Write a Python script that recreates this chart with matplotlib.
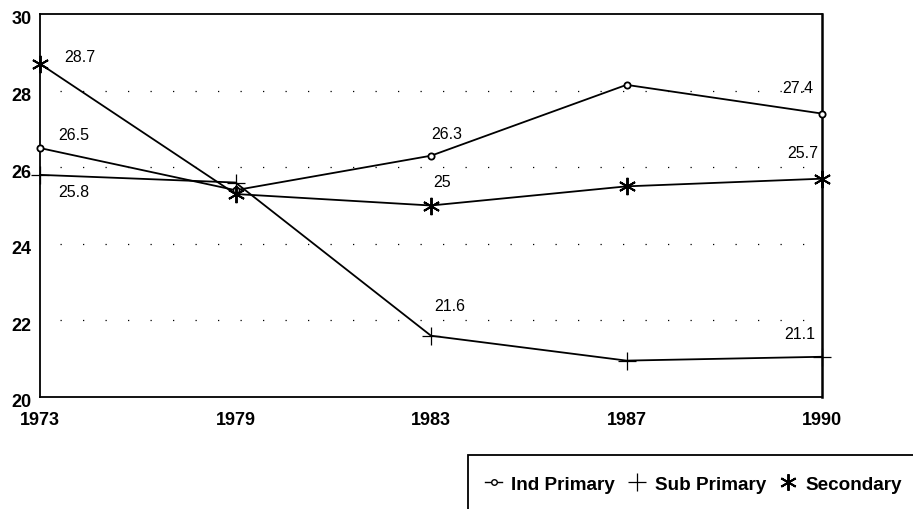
import matplotlib
matplotlib.use("Agg")
import matplotlib.pyplot as plt
import matplotlib.transforms as mtransforms
from matplotlib.lines import Line2D
from matplotlib.patches import Rectangle

years = ["1973", "1979", "1983", "1987", "1990"]
ind_primary = [26.5, 25.4, 26.3, 28.15, 27.4]
sub_primary = [25.8, 25.6, 21.6, 20.95, 21.05]
secondary = [28.7, 25.3, 25.0, 25.5, 25.7]
y_ticks = [20, 22, 24, 26, 28, 30]
series_names = ["Ind Primary", "Sub Primary", "Secondary"]

# labels shown on chart: (series, index, text, dx, dy) offsets in points
labels = [
    (secondary, 0, "28.7", 29, 5),
    (ind_primary, 0, "26.5", 24.5, 9.4),
    (sub_primary, 0, "25.8", 24.5, -12.2),
    (ind_primary, 2, "26.3", 11.5, 15.8),
    (secondary, 2, "25", 8, 17.3),
    (sub_primary, 2, "21.6", 13.7, 21.6),
    (ind_primary, 4, "27.4", -17.3, 18.7),
    (secondary, 4, "25.7", -13.7, 18.7),
    (sub_primary, 4, "21.1", -15.8, 16.6),
]

plt.rcParams['font.family'] = ['Liberation Sans', 'DejaVu Sans']
fig = plt.figure(figsize=(9.13, 5.10), dpi=100)
ax = fig.add_axes([40/913, 1-398/510, (822-40)/913, (398-15)/510])

x = list(range(len(years)))
ax.plot(x, ind_primary, color='black', lw=1.3, marker='o', ms=4.5,
        mfc='white', mec='black', mew=1.3, clip_on=False, zorder=3)
ax.plot(x, sub_primary, color='black', lw=1.3, marker='+', ms=13,
        mew=0.9, clip_on=False, zorder=3)
ax.plot(x, secondary, color='black', lw=1.3, marker=(6, 2, 0), ms=12.5,
        mew=1.4, clip_on=False, zorder=3)

for series, i, txt, dx, dy in labels:
    ax.annotate(txt, (x[i], series[i]), xytext=(dx, dy), textcoords='offset points',
                ha='center', va='center', fontsize=11.5)

for yv in [22, 24, 26, 28]:
    ax.plot([0.1, 3.95], [yv, yv], color='black', lw=0.9, ls=(0, (1, 17)), zorder=1)

ax.set_xlim(0, 4)
ax.set_ylim(20, 30)
ax.set_xticks(x)
ax.set_xticklabels(years)
ax.set_yticks(y_ticks)
for lbl in ax.get_xticklabels() + ax.get_yticklabels():
    lbl.set_fontweight('bold')
    lbl.set_fontsize(13)
ax.tick_params(axis='x', length=0, pad=10)
ax.tick_params(axis='y', length=0, pad=6)
offset = mtransforms.ScaledTranslation(0, -3/100, fig.dpi_scale_trans)
for lbl in ax.get_yticklabels():
    lbl.set_transform(lbl.get_transform() + offset)
for s in ax.spines.values():
    s.set_linewidth(1.3)
ax.spines['right'].set_linewidth(1.8)

handles = [
    Line2D([], [], color='black', lw=1, marker='o', ms=4, mfc='white'),
    Line2D([], [], color='black', lw=0, marker='+', ms=13, mew=0.9),
    Line2D([], [], color='black', lw=0, marker=(6, 2, 0), ms=12, mew=1.4),
]
leg = fig.legend(handles, series_names,
                 loc='center left', bbox_to_anchor=(485/913, 1-485/510),
                 ncol=3, frameon=False, borderpad=0, borderaxespad=0,
                 handlelength=0.9, handletextpad=0.5, columnspacing=0.7,
                 prop={'size': 13.6, 'weight': 'bold'})
fig.patches.append(Rectangle((468/913, -0.1), 0.6, 1-456/510+0.1,
                             transform=fig.transFigure, fill=False,
                             edgecolor='black', lw=1.3, clip_on=False))

fig.savefig("out.png", dpi=100)
